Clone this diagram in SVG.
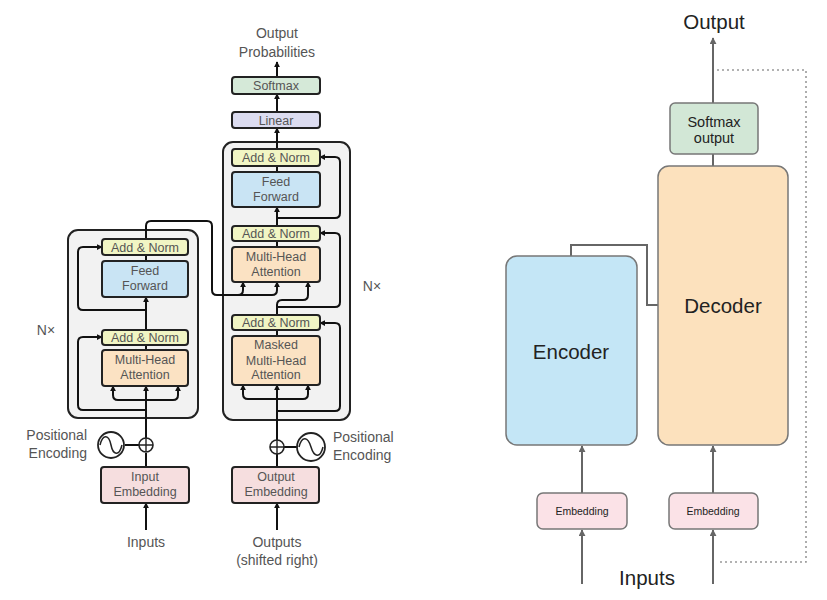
<svg xmlns="http://www.w3.org/2000/svg" width="827" height="600" viewBox="0 0 827 600">
<defs>
<marker id="ah" viewBox="0 0 8 8" refX="7" refY="4" markerWidth="6" markerHeight="6" markerUnits="userSpaceOnUse" orient="auto"><path d="M0,0 L8,4 L0,8 z" fill="#111"/></marker>
<marker id="ag" viewBox="0 0 8 8" refX="7" refY="4" markerWidth="7" markerHeight="7" markerUnits="userSpaceOnUse" orient="auto"><path d="M0,0 L8,4 L0,8 z" fill="#666"/></marker>
</defs>
<style>
.t{font-family:"Liberation Sans",Arial,sans-serif;fill:#555;text-anchor:middle}
.bl{font-size:12.5px}
.lb{font-size:14px}
.bx{stroke:#222;stroke-width:2}
.outer{fill:#f2f2f2;stroke:#222;stroke-width:2}
.an{fill:#f1f5c4}
.ff{fill:#c9e4f4}
.mha{fill:#fbe2c3}
.emb{fill:#f6dedf}
.lin{fill:#dcdcf0}
.sm{fill:#d5e9d8}
.c{fill:none;stroke:#111;stroke-width:2}
.ca{fill:none;stroke:#111;stroke-width:2;marker-end:url(#ah)}
.g{fill:none;stroke:#666;stroke-width:2}
.ga{fill:none;stroke:#666;stroke-width:2;marker-end:url(#ag)}
.rt{font-family:"Liberation Sans",Arial,sans-serif;fill:#222;text-anchor:middle}
.rb{stroke:#777;stroke-width:1.5}
</style>
<rect width="827" height="600" fill="#fff"/>

<!-- Left: Transformer -->
<g id="encoder-stack"><rect class="outer" x="68" y="230" width="130" height="188" rx="10"/></g>
<g id="decoder-stack"><rect class="outer" x="223" y="142" width="127" height="278" rx="10"/></g>

<g id="left-connectors">
<path class="ca" d="M146,530 V503"/>
<path class="c" d="M146,467 V453"/>
<path class="c" d="M125,445 H139"/>
<path class="ca" d="M146,438 V386"/>
<path class="ca" d="M146,400 H118 Q113,400 113,395 V386"/>
<path class="ca" d="M146,400 H173 Q178,400 178,395 V386"/>
<path class="ca" d="M146,410 H83 Q78,410 78,405 V342 Q78,337 83,337 H102"/>
<path class="c" d="M146,350 V345"/>
<path class="ca" d="M146,330 V297"/>
<path class="ca" d="M146,310 H83 Q78,310 78,305 V252 Q78,247 83,247 H102"/>
<path class="c" d="M146,261 V255"/>
<path class="ca" d="M146,239 V226 Q146,221 151,221 H207 Q212,221 212,226 V290 Q212,295 217,295 H238 Q243,295 243,290 V282"/>
<path class="ca" d="M238,295 H272 Q277,295 277,290 V282"/>

<path class="ca" d="M277,530 V503"/>
<path class="c" d="M277,467 V454"/>
<path class="c" d="M284,447 H297"/>
<path class="ca" d="M277,440 V385"/>
<path class="ca" d="M277,399 H248 Q243,399 243,394 V385"/>
<path class="ca" d="M277,399 H303 Q308,399 308,394 V385"/>
<path class="ca" d="M277,411 H335 Q340,411 340,406 V328 Q340,323 335,323 H320"/>
<path class="c" d="M277,336 V330"/>
<path class="ca" d="M277,315 V305 Q277,300 282,300 H303 Q308,300 308,295 V282"/>
<path class="ca" d="M277,307 H335 Q340,307 340,302 V238 Q340,233 335,233 H320"/>
<path class="c" d="M277,247 V241"/>
<path class="ca" d="M277,226 V207"/>
<path class="ca" d="M277,218 H335 Q340,218 340,213 V162 Q340,157 335,157 H320"/>
<path class="c" d="M277,172 V166"/>
<path class="ca" d="M277,149 V128"/>
<path class="ca" d="M277,112 V94"/>
<path class="ca" d="M277,77 V62"/>
</g>

<g id="enc-addnorm2"><rect class="bx an" x="102" y="239" width="86" height="16" rx="3"/><text class="t bl" x="145" y="251.5">Add &amp; Norm</text></g>
<g id="enc-ff"><rect class="bx ff" x="102" y="261" width="86" height="36" rx="3"/><text class="t bl" x="145" y="275">Feed</text><text class="t bl" x="145" y="290">Forward</text></g>
<g id="enc-addnorm1"><rect class="bx an" x="102" y="330" width="86" height="15" rx="3"/><text class="t bl" x="145" y="342">Add &amp; Norm</text></g>
<g id="enc-mha"><rect class="bx mha" x="102" y="350" width="86" height="36" rx="3"/><text class="t bl" x="145" y="364">Multi-Head</text><text class="t bl" x="145" y="379">Attention</text></g>
<g id="input-embedding"><rect class="bx emb" x="101" y="467" width="88" height="36" rx="3"/><text class="t bl" x="145" y="481">Input</text><text class="t bl" x="145" y="496">Embedding</text></g>
<g id="enc-posenc">
<circle cx="111" cy="445" r="13" fill="#fff" stroke="#222" stroke-width="1.8"/>
<path d="M100,445 C103,433 109,435 111,445 S119,457 122,445" fill="none" stroke="#222" stroke-width="1.5"/>
<circle cx="146" cy="445" r="7" fill="#fff" stroke="#222" stroke-width="1.6"/>
<path d="M139,445 H153 M146,438 V452" stroke="#222" stroke-width="1.4"/>
<text class="t lb" x="87" y="440" style="text-anchor:end">Positional</text>
<text class="t lb" x="87" y="458" style="text-anchor:end">Encoding</text>
</g>
<text class="t lb" x="146" y="547">Inputs</text>
<text class="t lb" x="46" y="335">N×</text>

<g id="softmax-l"><rect class="bx sm" x="232" y="77" width="88" height="17" rx="3"/><text class="t bl" x="276" y="90">Softmax</text></g>
<g id="linear"><rect class="bx lin" x="232" y="112" width="88" height="16" rx="3"/><text class="t bl" x="276" y="124.5">Linear</text></g>
<g id="dec-addnorm3"><rect class="bx an" x="232" y="149" width="88" height="17" rx="3"/><text class="t bl" x="276" y="162">Add &amp; Norm</text></g>
<g id="dec-ff"><rect class="bx ff" x="232" y="172" width="88" height="35" rx="3"/><text class="t bl" x="276" y="186">Feed</text><text class="t bl" x="276" y="201">Forward</text></g>
<g id="dec-addnorm2"><rect class="bx an" x="232" y="226" width="88" height="15" rx="3"/><text class="t bl" x="276" y="238">Add &amp; Norm</text></g>
<g id="dec-mha"><rect class="bx mha" x="232" y="247" width="88" height="35" rx="3"/><text class="t bl" x="276" y="261">Multi-Head</text><text class="t bl" x="276" y="276">Attention</text></g>
<g id="dec-addnorm1"><rect class="bx an" x="232" y="315" width="88" height="15" rx="3"/><text class="t bl" x="276" y="327">Add &amp; Norm</text></g>
<g id="dec-masked"><rect class="bx mha" x="232" y="336" width="88" height="49" rx="3"/><text class="t bl" x="276" y="349">Masked</text><text class="t bl" x="276" y="365">Multi-Head</text><text class="t bl" x="276" y="379">Attention</text></g>
<g id="output-embedding"><rect class="bx emb" x="232" y="467" width="87" height="36" rx="3"/><text class="t bl" x="276" y="481">Output</text><text class="t bl" x="276" y="496">Embedding</text></g>
<g id="dec-posenc">
<circle cx="311" cy="447" r="14" fill="#fff" stroke="#222" stroke-width="1.8"/>
<path d="M299,447 C302,435 308,437 311,447 S320,459 323,447" fill="none" stroke="#222" stroke-width="1.5"/>
<circle cx="277" cy="447" r="7" fill="#fff" stroke="#222" stroke-width="1.6"/>
<path d="M270,447 H284 M277,440 V454" stroke="#222" stroke-width="1.4"/>
<text class="t lb" x="333" y="442" style="text-anchor:start">Positional</text>
<text class="t lb" x="333" y="460" style="text-anchor:start">Encoding</text>
</g>
<text class="t lb" x="277" y="547">Outputs</text>
<text class="t lb" x="277" y="565">(shifted right)</text>
<text class="t lb" x="372" y="291">N×</text>
<text class="t lb" x="277" y="38">Output</text>
<text class="t lb" x="277" y="57">Probabilities</text>

<!-- Right: simplified -->
<g id="right-connectors">
<path class="ga" d="M582,584 V530"/>
<path class="ga" d="M582,493 V446"/>
<path class="ga" d="M713,584 V530"/>
<path class="ga" d="M713,493 V446"/>
<path class="g" d="M713,166 V154"/>
<path class="ga" d="M713,103 V38"/>
<path class="g" d="M571,256 V245 H647 V305 H658" stroke-width="1.8"/>
<path d="M717,70 H806 V562 H717" fill="none" stroke="#999" stroke-width="1.6" stroke-dasharray="2 3"/>
</g>
<g id="encoder"><rect class="rb" x="506" y="256" width="131" height="189" rx="11" fill="#c4e6f6"/><text class="rt" x="571" y="359" font-size="20.5">Encoder</text></g>
<g id="decoder"><rect class="rb" x="658" y="166" width="130" height="279" rx="11" fill="#fce1bd"/><text class="rt" x="723" y="313" font-size="20.5">Decoder</text></g>
<g id="softmax-output"><rect class="rb" x="670" y="103" width="88" height="51" rx="5" fill="#d2e7d6"/><text class="rt" x="714" y="127" font-size="14.5">Softmax</text><text class="rt" x="714" y="143" font-size="14.5">output</text></g>
<g id="embedding-enc"><rect class="rb" x="537" y="493" width="90" height="36" rx="6" fill="#fbe2e7"/><text class="rt" x="582" y="515" font-size="10.5">Embedding</text></g>
<g id="embedding-dec"><rect class="rb" x="669" y="493" width="89" height="36" rx="6" fill="#fbe2e7"/><text class="rt" x="713" y="515" font-size="10.5">Embedding</text></g>
<text class="rt" x="714" y="29" font-size="20.5">Output</text>
<text class="rt" x="647" y="585" font-size="20.5">Inputs</text>
</svg>
